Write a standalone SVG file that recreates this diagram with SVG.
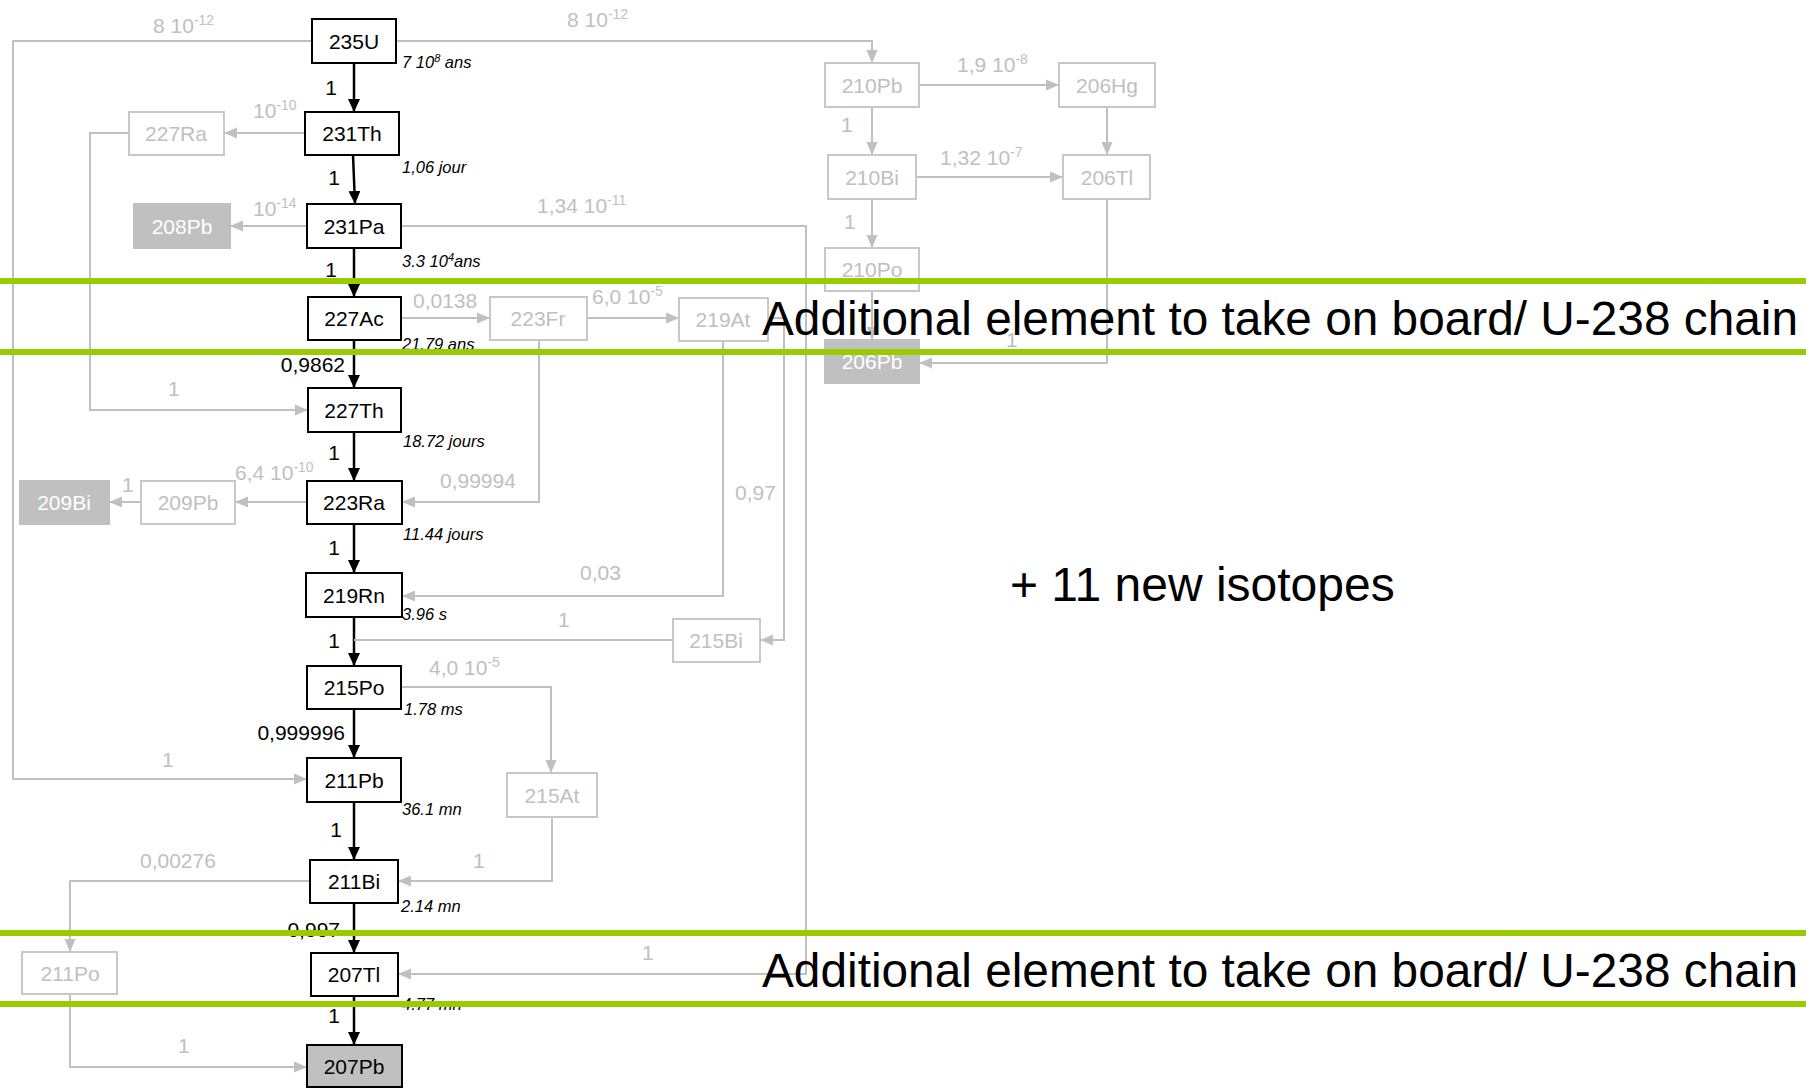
<svg xmlns="http://www.w3.org/2000/svg" width="1806" height="1088" viewBox="0 0 1806 1088">
<defs>
<marker id="ab" markerUnits="userSpaceOnUse" markerWidth="14" markerHeight="12" refX="13" refY="6" orient="auto"><path d="M0,0 L13,6 L0,12 z" fill="#000"/></marker>
<marker id="ag" markerUnits="userSpaceOnUse" markerWidth="14" markerHeight="12" refX="13" refY="6" orient="auto"><path d="M0,0.5 L13,6 L0,11.5 z" fill="#c0c0c0"/></marker>
<style>
.mb{fill:#fff;stroke:#000;stroke-width:2}
.gb{fill:#fff;stroke:#c8c8c8;stroke-width:2}
.fb{fill:#c0c0c0;stroke:#c0c0c0;stroke-width:2}
.pb{fill:#c0c0c0;stroke:#000;stroke-width:2}
.ml{font-family:"Liberation Sans",Arial,sans-serif;font-size:21px;fill:#000;text-anchor:middle}
.gl{font-family:"Liberation Sans",Arial,sans-serif;font-size:21px;fill:#c0c0c0;text-anchor:middle}
.wl{font-family:"Liberation Sans",Arial,sans-serif;font-size:21px;fill:#fff;text-anchor:middle}
.gn{font-family:"Liberation Sans",Arial,sans-serif;font-size:21px;fill:#c0c0c0}
.bn{font-family:"Liberation Sans",Arial,sans-serif;font-size:21px;fill:#000;text-anchor:end}
.hl{font-family:"Liberation Sans",Arial,sans-serif;font-size:16.5px;font-style:italic;fill:#000}
.sup{font-size:14px}
.bl{fill:none;stroke:#000;stroke-width:2.5}
.gc{fill:none;stroke:#c0c0c0;stroke-width:2}
.green{stroke:#99cc00;stroke-width:6}
.big{font-family:"Liberation Sans",Arial,sans-serif;font-size:48px;fill:#000}
</style>
</defs>
<rect width="1806" height="1088" fill="#fff"/>

<g id="connectors">
<line class="bl" x1="354" y1="63" x2="354" y2="112" marker-end="url(#ab)"/>
<line class="bl" x1="353" y1="155" x2="355" y2="204" marker-end="url(#ab)"/>
<line class="bl" x1="354" y1="248" x2="354" y2="297" marker-end="url(#ab)"/>
<line class="bl" x1="354" y1="340" x2="354" y2="388" marker-end="url(#ab)"/>
<line class="bl" x1="354" y1="432" x2="354" y2="481" marker-end="url(#ab)"/>
<line class="bl" x1="354" y1="524" x2="354" y2="573" marker-end="url(#ab)"/>
<line class="bl" x1="354" y1="617" x2="354" y2="666" marker-end="url(#ab)"/>
<line class="bl" x1="354" y1="709" x2="354" y2="758" marker-end="url(#ab)"/>
<line class="bl" x1="354" y1="802" x2="354" y2="860" marker-end="url(#ab)"/>
<line class="bl" x1="354" y1="903" x2="354" y2="953" marker-end="url(#ab)"/>
<line class="bl" x1="354" y1="996" x2="354" y2="1045" marker-end="url(#ab)"/>
<polyline class="gc" points="312,41 13,41 13,779 307,779" marker-end="url(#ag)"/>
<polyline class="gc" points="396,41 872,41 872,63" marker-end="url(#ag)"/>
<polyline class="gc" points="305,133 224,133" marker-end="url(#ag)"/>
<polyline class="gc" points="129,133 90,133 90,410 308,410" marker-end="url(#ag)"/>
<polyline class="gc" points="307,226 230,226" marker-end="url(#ag)"/>
<polyline class="gc" points="401,226 806,226 806,974 398,974" marker-end="url(#ag)"/>
<polyline class="gc" points="401,318 490,318" marker-end="url(#ag)"/>
<polyline class="gc" points="587,318 679,318" marker-end="url(#ag)"/>
<polyline class="gc" points="539,340 539,502 402,502" marker-end="url(#ag)"/>
<polyline class="gc" points="723,341 723,596 402,596" marker-end="url(#ag)"/>
<polyline class="gc" points="768,318 784,318 784,640 760,640" marker-end="url(#ag)"/>
<polyline class="gc" points="673,640 354,640"/>
<polyline class="gc" points="307,502 235,502" marker-end="url(#ag)"/>
<polyline class="gc" points="141,502 109,502" marker-end="url(#ag)"/>
<polyline class="gc" points="401,687 551,687 551,773" marker-end="url(#ag)"/>
<polyline class="gc" points="552,817 552,881 398,881" marker-end="url(#ag)"/>
<polyline class="gc" points="310,881 70,881 70,952" marker-end="url(#ag)"/>
<polyline class="gc" points="70,994 70,1067 307,1067" marker-end="url(#ag)"/>
<polyline class="gc" points="919,85 1059,85" marker-end="url(#ag)"/>
<polyline class="gc" points="872,107 872,155" marker-end="url(#ag)"/>
<polyline class="gc" points="1107,107 1107,155" marker-end="url(#ag)"/>
<polyline class="gc" points="916,177 1063,177" marker-end="url(#ag)"/>
<polyline class="gc" points="872,199 872,248" marker-end="url(#ag)"/>
<polyline class="gc" points="872,291 872,340" marker-end="url(#ag)"/>
<polyline class="gc" points="1107,199 1107,363 919,363" marker-end="url(#ag)"/>
</g>

<g id="branch-labels">
<text class="gn" x="153" y="33">8 10<tspan class="sup" dy="-8">-12</tspan></text>
<text class="gn" x="567" y="27">8 10<tspan class="sup" dy="-8">-12</tspan></text>
<text class="gn" x="253" y="118">10<tspan class="sup" dy="-8">-10</tspan></text>
<text class="gn" x="253" y="216">10<tspan class="sup" dy="-8">-14</tspan></text>
<text class="gn" x="537" y="213">1,34 10<tspan class="sup" dy="-8">-11</tspan></text>
<text class="gn" x="413" y="308">0,0138</text>
<text class="gn" x="592" y="304">6,0 10<tspan class="sup" dy="-8">-5</tspan></text>
<text class="gn" x="168" y="396">1</text>
<text class="gn" x="235" y="480">6,4 10<tspan class="sup" dy="-8">-10</tspan></text>
<text class="gn" x="122" y="492">1</text>
<text class="gn" x="440" y="488">0,99994</text>
<text class="gn" x="735" y="500">0,97</text>
<text class="gn" x="580" y="580">0,03</text>
<text class="gn" x="558" y="627">1</text>
<text class="gn" x="429" y="675">4,0 10<tspan class="sup" dy="-8">-5</tspan></text>
<text class="gn" x="162" y="767">1</text>
<text class="gn" x="140" y="868">0,00276</text>
<text class="gn" x="473" y="868">1</text>
<text class="gn" x="642" y="960">1</text>
<text class="gn" x="178" y="1053">1</text>
<text class="gn" x="957" y="72">1,9 10<tspan class="sup" dy="-8">-8</tspan></text>
<text class="gn" x="841" y="132">1</text>
<text class="gn" x="940" y="165">1,32 10<tspan class="sup" dy="-8">-7</tspan></text>
<text class="gn" x="844" y="229">1</text>
<text class="gn" x="1006" y="347">1</text>

<text class="bn" x="337" y="95">1</text>
<text class="bn" x="340" y="185">1</text>
<text class="bn" x="337" y="277">1</text>
<text class="bn" x="345" y="372">0,9862</text>
<text class="bn" x="340" y="460">1</text>
<text class="bn" x="340" y="555">1</text>
<text class="bn" x="340" y="648">1</text>
<text class="bn" x="345" y="740">0,999996</text>
<text class="bn" x="342" y="837">1</text>
<text class="bn" x="340" y="937">0,997</text>
<text class="bn" x="340" y="1023">1</text>
</g>

<g id="half-lives">
<text class="hl" x="402" y="68">7 10<tspan font-size="11" dy="-6">8</tspan><tspan dy="6"> ans</tspan></text>
<text class="hl" x="402" y="173">1,06 jour</text>
<text class="hl" x="402" y="267">3.3 10<tspan font-size="11" dy="-6">4</tspan><tspan dy="6">ans</tspan></text>
<text class="hl" x="402" y="350">21.79 ans</text>
<text class="hl" x="403" y="447">18.72 jours</text>
<text class="hl" x="403" y="540">11.44 jours</text>
<text class="hl" x="402" y="620">3.96 s</text>
<text class="hl" x="404" y="715">1.78 ms</text>
<text class="hl" x="402" y="815">36.1 mn</text>
<text class="hl" x="401" y="912">2.14 mn</text>
<text class="hl" x="402" y="1010">4.77 mn</text>
</g>

<g id="n235U"><rect class="mb" x="312" y="19" width="84" height="44"/><text class="ml" x="354" y="49">235U</text></g>
<g id="n231Th"><rect class="mb" x="305" y="112" width="94" height="43"/><text class="ml" x="352" y="141">231Th</text></g>
<g id="n231Pa"><rect class="mb" x="307" y="204" width="94" height="44"/><text class="ml" x="354" y="234">231Pa</text></g>
<g id="n227Ac"><rect class="mb" x="308" y="297" width="93" height="43"/><text class="ml" x="354" y="326">227Ac</text></g>
<g id="n227Th"><rect class="mb" x="308" y="388" width="93" height="44"/><text class="ml" x="354" y="418">227Th</text></g>
<g id="n223Ra"><rect class="mb" x="307" y="481" width="95" height="43"/><text class="ml" x="354" y="510">223Ra</text></g>
<g id="n219Rn"><rect class="mb" x="306" y="573" width="96" height="44"/><text class="ml" x="354" y="603">219Rn</text></g>
<g id="n215Po"><rect class="mb" x="307" y="666" width="94" height="43"/><text class="ml" x="354" y="695">215Po</text></g>
<g id="n211Pb"><rect class="mb" x="307" y="758" width="94" height="44"/><text class="ml" x="354" y="788">211Pb</text></g>
<g id="n211Bi"><rect class="mb" x="310" y="860" width="88" height="43"/><text class="ml" x="354" y="889">211Bi</text></g>
<g id="n207Tl"><rect class="mb" x="311" y="953" width="87" height="43"/><text class="ml" x="354" y="982">207Tl</text></g>
<g id="n207Pb"><rect class="pb" x="307" y="1045" width="95" height="42"/><text class="ml" x="354" y="1074">207Pb</text></g>

<g id="n227Ra"><rect class="gb" x="129" y="112" width="95" height="43"/><text class="gl" x="176" y="141">227Ra</text></g>
<g id="n208Pb"><rect class="fb" x="134" y="204" width="96" height="44"/><text class="wl" x="182" y="234">208Pb</text></g>
<g id="n223Fr"><rect class="gb" x="490" y="297" width="97" height="43"/><text class="gl" x="538" y="326">223Fr</text></g>
<g id="n219At"><rect class="gb" x="679" y="298" width="89" height="43"/><text class="gl" x="723" y="327">219At</text></g>
<g id="n209Bi"><rect class="fb" x="20" y="481" width="89" height="43"/><text class="wl" x="64" y="510">209Bi</text></g>
<g id="n209Pb"><rect class="gb" x="141" y="481" width="94" height="43"/><text class="gl" x="188" y="510">209Pb</text></g>
<g id="n215Bi"><rect class="gb" x="673" y="619" width="87" height="43"/><text class="gl" x="716" y="648">215Bi</text></g>
<g id="n215At"><rect class="gb" x="507" y="773" width="90" height="44"/><text class="gl" x="552" y="803">215At</text></g>
<g id="n211Po"><rect class="gb" x="22" y="952" width="95" height="42"/><text class="gl" x="70" y="981">211Po</text></g>
<g id="n210Pb"><rect class="gb" x="825" y="63" width="94" height="44"/><text class="gl" x="872" y="93">210Pb</text></g>
<g id="n206Hg"><rect class="gb" x="1059" y="63" width="96" height="44"/><text class="gl" x="1107" y="93">206Hg</text></g>
<g id="n210Bi"><rect class="gb" x="828" y="155" width="88" height="44"/><text class="gl" x="872" y="185">210Bi</text></g>
<g id="n206Tl"><rect class="gb" x="1063" y="155" width="87" height="44"/><text class="gl" x="1107" y="185">206Tl</text></g>
<g id="n210Po"><rect class="gb" x="825" y="248" width="94" height="43"/><text class="gl" x="872" y="277">210Po</text></g>
<g id="n206Pb"><rect class="fb" x="825" y="340" width="94" height="43"/><text class="wl" x="872" y="369">206Pb</text></g>

<g id="annotations">
<line class="green" x1="0" y1="281" x2="1806" y2="281"/>
<line class="green" x1="0" y1="352" x2="1806" y2="352"/>
<line class="green" x1="0" y1="933" x2="1806" y2="933"/>
<line class="green" x1="0" y1="1004" x2="1806" y2="1004"/>
<text class="big" x="762" y="335" textLength="1036" lengthAdjust="spacingAndGlyphs">Additional element to take on board/ U-238 chain</text>
<text class="big" x="762" y="987" textLength="1036" lengthAdjust="spacingAndGlyphs">Additional element to take on board/ U-238 chain</text>
<text class="big" x="1010" y="601">+ 11 new isotopes</text>
</g>
</svg>
